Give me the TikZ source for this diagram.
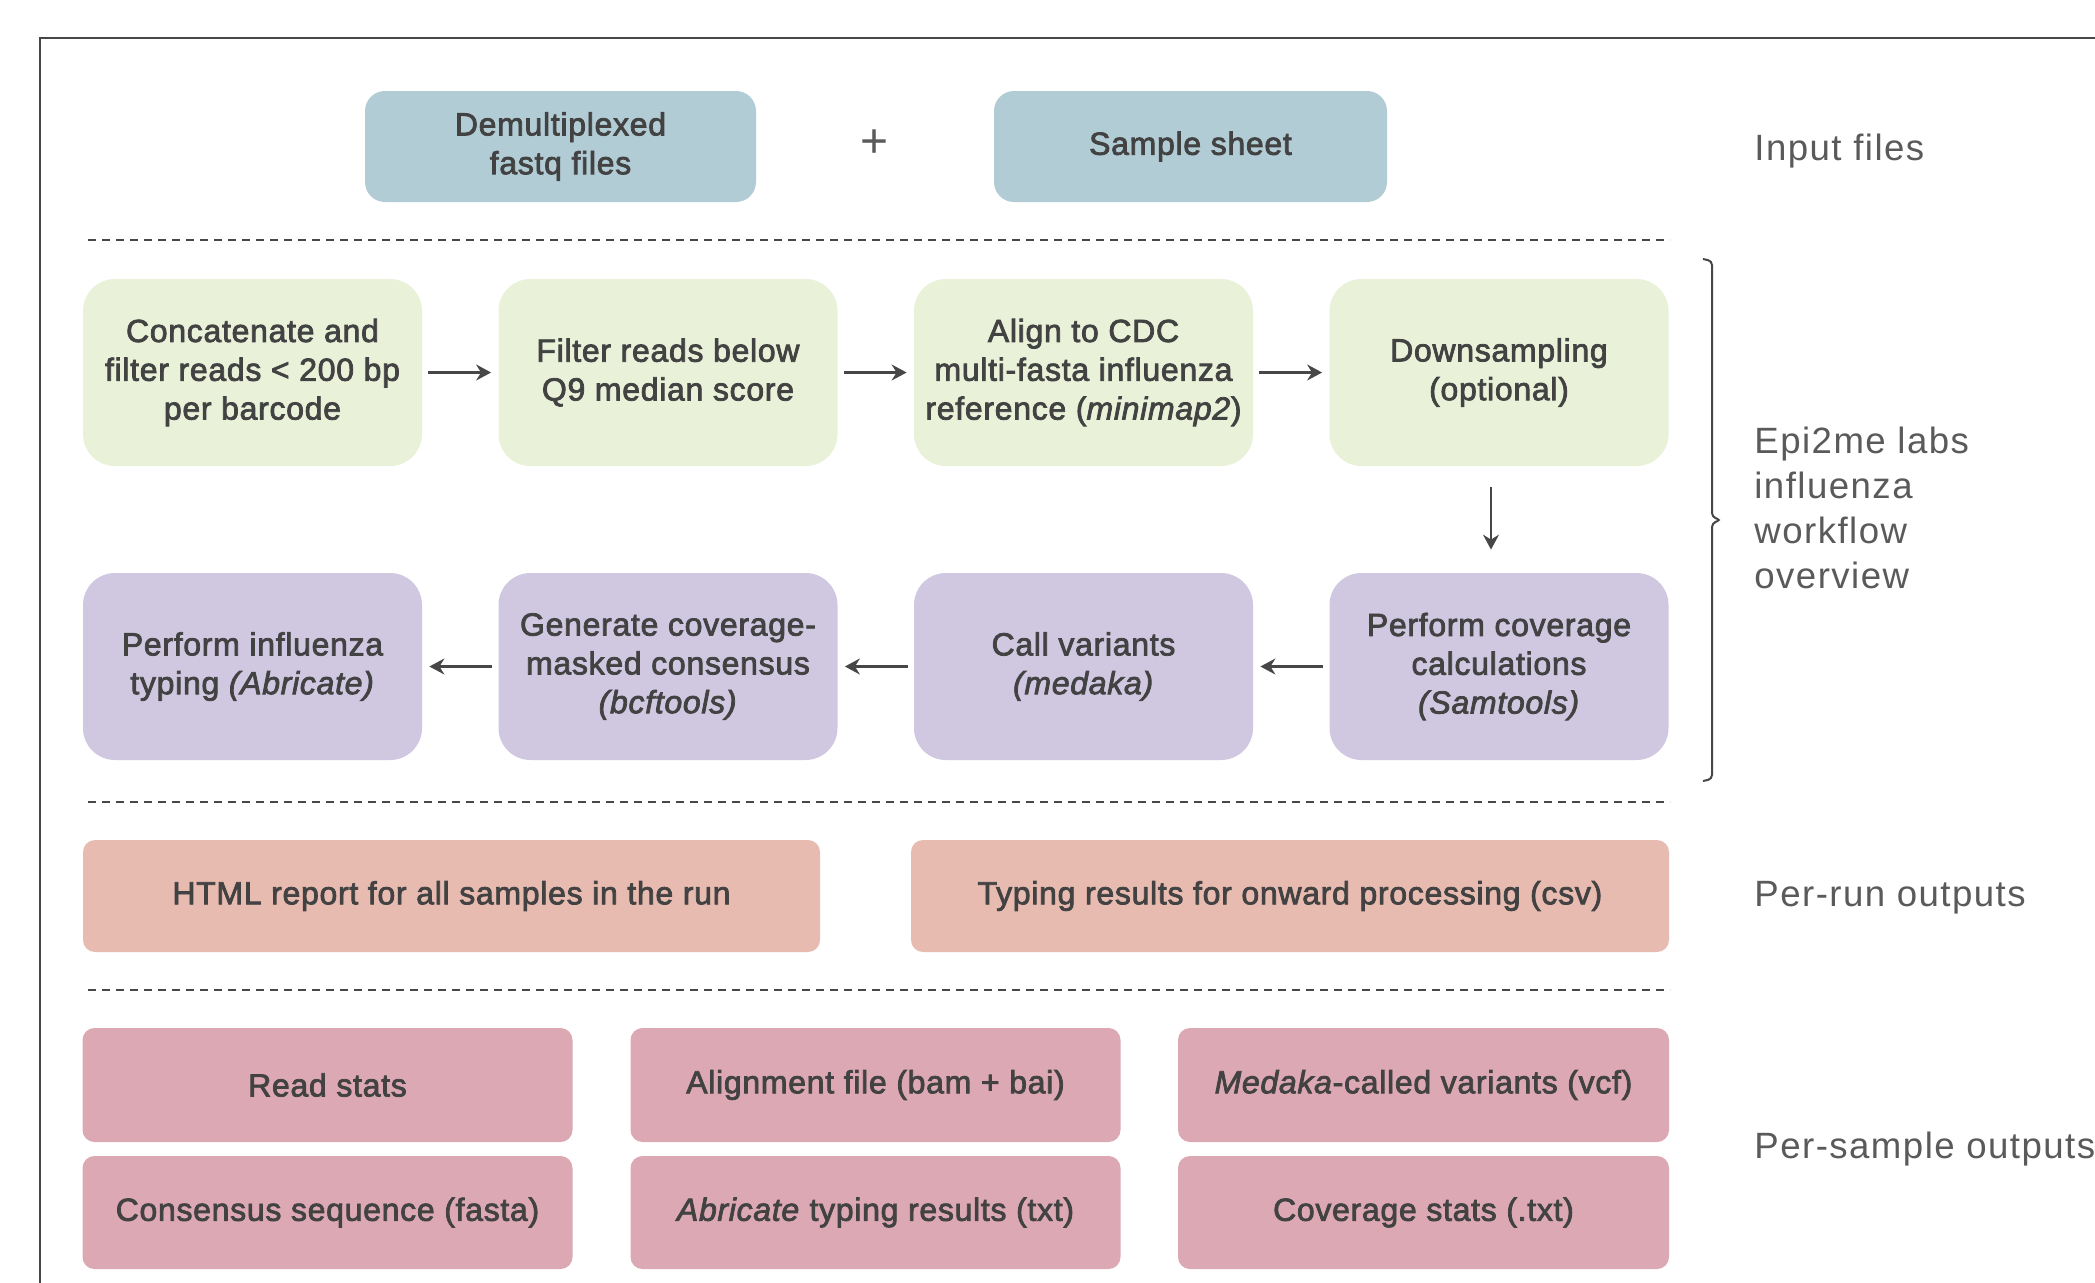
\documentclass[tikz,border=0pt]{standalone}
\usepackage{fontspec}
\setmainfont{Liberation Sans}
\newfontfamily\boxfont{Liberation Sans}[FakeBold=2.4, LetterSpace=2.2]
\newfontfamily\labelfont{Liberation Sans}[LetterSpace=4]
\usetikzlibrary{arrows.meta}
\definecolor{inputc}{HTML}{B2CCD5}
\definecolor{greenc}{HTML}{E9F1D9}
\definecolor{purplec}{HTML}{D0C7E1}
\definecolor{runc}{HTML}{E8BBB1}
\definecolor{samplec}{HTML}{DCA8B4}
\definecolor{txtc}{HTML}{424242}
\definecolor{linec}{HTML}{474747}
\definecolor{labelc}{HTML}{5A5A5A}
\tikzset{
  box/.style={rectangle, inner sep=0pt, align=center, text=txtc,
    font=\boxfont\fontsize{16pt}{19.4pt}\selectfont},
  inbox/.style={box, fill=inputc, rounded corners=10pt,
    minimum width=195.5pt, minimum height=55.5pt},
  gbox/.style={box, fill=greenc, rounded corners=16pt,
    minimum width=169.5pt, minimum height=93.5pt},
  pbox/.style={box, fill=purplec, rounded corners=16pt,
    minimum width=169.5pt, minimum height=93.5pt},
  rbox/.style={box, fill=runc, rounded corners=6pt, minimum height=56pt},
  sbox/.style={box, fill=samplec, rounded corners=6pt,
    minimum width=245pt, minimum height=57pt},
  arr/.style={draw=linec, line width=1.1pt,
    -{Stealth[length=7.5pt, width=8pt, inset=2.5pt]},
    shorten <=3pt, shorten >=3.5pt},
  sep/.style={draw=linec, line width=0.9pt, dash pattern=on 4pt off 3pt},
  sidelabel/.style={inner sep=0pt, text=labelc, align=left,
    font=\labelfont\fontsize{18.3pt}{22.5pt}\selectfont},
}
\begin{document}
\begin{tikzpicture}[x=0.5pt, y=-0.5pt]
\useasboundingbox (0,0) rectangle (2095,1282);
\fill[white] (0,0) rectangle (2095,1282);
\clip (0,0) rectangle (2095,1282);

% outer frame
\draw[linec, line width=1.3pt] (2200,38) -- (40,38) -- (40,1400);

% input row
\node[inbox] (demux) at (560.5,146.5) {Demultiplexed\\fastq files};
\node[inbox, minimum width=196.5pt] (sheet) at (1190.5,146.5) {Sample sheet};
\node[inner sep=0pt, text=labelc, font=\labelfont\fontsize{24pt}{24pt}\selectfont] (plus) at (875,144) {+};

% separators
\coordinate (s1a) at (88,240);  \coordinate (s1b) at (1670,240);
\coordinate (s2a) at (88,802);  \coordinate (s2b) at (1670,802);
\coordinate (s3a) at (88,990);  \coordinate (s3b) at (1670,990);
\draw[sep] (s1a) -- (s1b);
\draw[sep] (s2a) -- (s2b);
\draw[sep] (s3a) -- (s3b);

% workflow row 1
\node[gbox] (concat) at (252.5,372.5) {Concatenate and\\filter reads < 200 bp\\per barcode};
\node[gbox] (filter) at (668,372.5) {Filter reads below\\Q9 median score};
\node[gbox] (align) at (1083.5,372.5) {Align to CDC\\multi-fasta influenza\\reference (\textit{minimap2})};
\node[gbox] (down) at (1499,372.5) {Downsampling\\(optional)};

% workflow row 2
\node[pbox] (typing) at (252.5,666.5) {Perform influenza\\typing \textit{(Abricate)}};
\node[pbox] (consensus) at (668,666.5) {Generate coverage-\\masked consensus\\\textit{(bcftools)}};
\node[pbox] (call) at (1083.5,666.5) {Call variants\\\textit{(medaka)}};
\node[pbox] (cov) at (1499,666.5) {Perform coverage\\calculations\\\textit{(Samtools)}};

% arrows
\draw[arr] (concat) -- (filter);
\draw[arr] (filter) -- (align);
\draw[arr] (align) -- (down);
\draw[arr, shorten <=10.5pt, shorten >=11.5pt] ([xshift=-4pt]down.south) -- ([xshift=-4pt]cov.north);
\draw[arr] (cov) -- (call);
\draw[arr] (call) -- (consensus);
\draw[arr] (consensus) -- (typing);

% brace
\draw[linec, line width=1pt, rounded corners=2pt]
  (1703,259) -- (1712,261) -- (1712,517) -- (1721,520) -- (1712,523) -- (1712,779) -- (1703,781);

% per-run outputs
\node[rbox, minimum width=368.5pt] (html) at (451.5,896) {HTML report for all samples in the run};
\node[rbox, minimum width=379pt] (csv) at (1290,896) {Typing results for onward processing (csv)};

% per-sample outputs
\node[sbox] (reads) at (327.5,1085) {Read stats};
\node[sbox] (bam) at (875.5,1085) {Alignment file (bam + bai)};
\node[sbox, minimum width=245.5pt] (vcf) at (1423.5,1085) {\textit{Medaka}-called variants (vcf)};
\node[sbox, minimum height=56.5pt] (fasta) at (327.5,1212.5) {Consensus sequence (fasta)};
\node[sbox, minimum height=56.5pt] (abr) at (875.5,1212.5) {\textit{Abricate} typing results (txt)};
\node[sbox, minimum width=245.5pt, minimum height=56.5pt] (covstats) at (1423.5,1212.5) {Coverage stats (.txt)};

% side labels
\node[sidelabel, anchor=base west] (lin) at (1754,160) {Input files};
\node[sidelabel, anchor=north west] (lwf) at (1754,427) {Epi2me labs\\influenza\\workflow\\overview};
\node[sidelabel, anchor=base west] (lrun) at (1754,906) {Per-run outputs};
\node[sidelabel, anchor=base west] (lsample) at (1754,1158) {Per-sample outputs};
\end{tikzpicture}
\end{document}
